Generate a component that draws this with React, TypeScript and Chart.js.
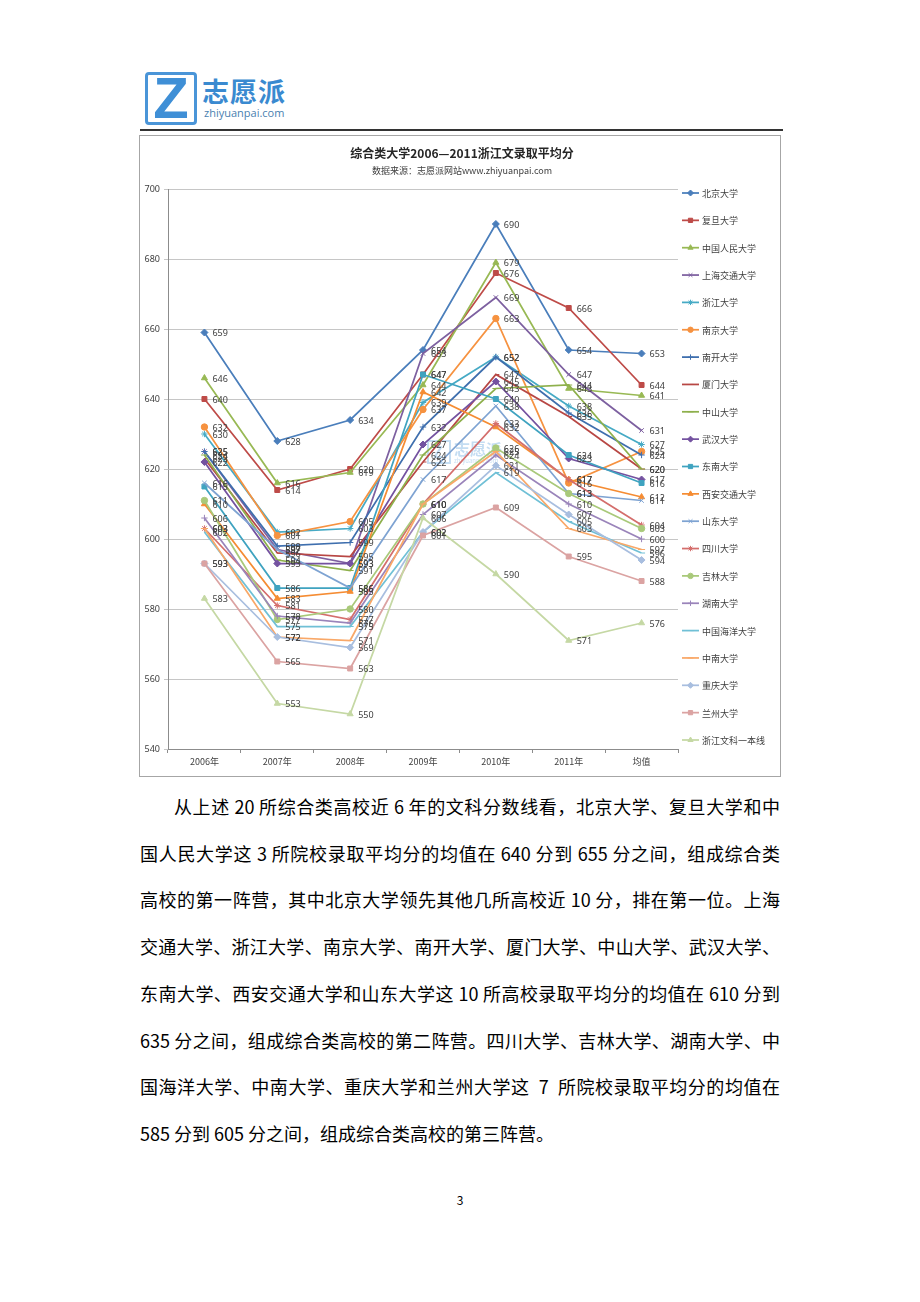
import React, { useEffect, useRef } from 'react';
import { Chart, registerables } from 'chart.js';
import { drawPoint } from 'chart.js/helpers';

Chart.register(...registerables);

const categories = ['2006年', '2007年', '2008年', '2009年', '2010年', '2011年', '均值'];
const yTicks = [540, 560, 580, 600, 620, 640, 660, 680, 700];

const seriesNames = [
  '北京大学', '复旦大学', '中国人民大学', '上海交通大学', '浙江大学', '南京大学', '南开大学',
  '厦门大学', '中山大学', '武汉大学', '东南大学', '西安交通大学', '山东大学', '四川大学',
  '吉林大学', '湖南大学', '中国海洋大学', '中南大学', '重庆大学', '兰州大学', '浙江文科一本线',
];

const beijing = [659, 628, 634, 654, 690, 654, 653];
const fudan = [640, 614, 620, 647, 676, 666, 644];
const renmin = [646, 616, 619, 644, 679, 643, 641];
const shjiaotong = [625, 597, 593, 653, 669, 647, 631];
const zhejiang = [630, 602, 603, 639, 652, 638, 627];
const nanjing = [632, 601, 605, 637, 663, 616, 625];
const nankai = [625, 598, 599, 632, 652, 636, 624];
const xiamen = [623, 596, 595, 622, 647, 635, 620];
const zhongshan = [624, 594, 591, 624, 643, 644, 620];
const wuhan = [622, 593, 593, 627, 645, 623, 617];
const dongnan = [615, 586, 586, 647, 640, 624, 616];
const xajiaotong = [610, 583, 585, 642, 632, 617, 612];
const shandong = [616, 597, 586, 617, 638, 613, 611];
const sichuan = [603, 581, 577, 610, 633, 617, 604];
const jilin = [611, 577, 580, 610, 626, 613, 603];
const hunan = [606, 578, 576, 607, 624, 610, 600];
const haiyang = [602, 575, 575, 602, 619, 605, 596];
const zhongnan = [603, 572, 571, 610, 625, 603, 597];
const chongqing = [593, 572, 569, 602, 621, 607, 594];
const lanzhou = [593, 565, 563, 601, 609, 595, 588];
const yibenxian = [583, 553, 550, 606, 590, 571, 576];

const seriesValues = [
  beijing, fudan, renmin, shjiaotong, zhejiang, nanjing, nankai, xiamen, zhongshan, wuhan,
  dongnan, xajiaotong, shandong, sichuan, jilin, hunan, haiyang, zhongnan, chongqing, lanzhou, yibenxian,
];

const seriesColors = [
  '#4A7EBB', '#BE4B48', '#98B954', '#7D60A0', '#46AAC5', '#F69240', '#3F6FAE',
  '#B84744', '#8EB04C', '#7452A0', '#3FA3C0', '#F58C33', '#7EA3D2', '#D46E6C',
  '#A9C97A', '#9A84BA', '#70C0D6', '#F9A868', '#A8BEDF', '#DBA3A2', '#C5D8A4',
];

const seriesMarkers = [
  'rectRot', 'rect', 'triangle', 'crossRot', 'star', 'circle', 'cross',
  'dash', 'line', 'rectRot', 'rect', 'triangle', 'crossRot', 'star',
  'circle', 'cross', 'dash', 'line', 'rectRot', 'rect', 'triangle',
];

const paragraphLines = [
  '从上述 20 所综合类高校近 6 年的文科分数线看，北京大学、复旦大学和中',
  '国人民大学这 3 所院校录取平均分的均值在 640 分到 655 分之间，组成综合类',
  '高校的第一阵营，其中北京大学领先其他几所高校近 10 分，排在第一位。上海',
  '交通大学、浙江大学、南京大学、南开大学、厦门大学、中山大学、武汉大学、',
  '东南大学、西安交通大学和山东大学这 10 所高校录取平均分的均值在 610 分到',
  '635 分之间，组成综合类高校的第二阵营。四川大学、吉林大学、湖南大学、中',
  '国海洋大学、中南大学、重庆大学和兰州大学这  7  所院校录取平均分的均值在',
  '585 分到 605 分之间，组成综合类高校的第三阵营。',
];

const FONT = '"Noto Sans CJK SC", "Noto Sans", sans-serif';

function markerRadius(style: string) {
  if (style === 'rectRot') return 3.5;
  if (style === 'triangle') return 3.5;
  if (style === 'rect') return 3.5;
  if (style === 'circle') return 3.2;
  if (style === 'dash' || style === 'line') return 3.5;
  return 3.2;
}

const decorPlugin = {
  id: 'decor',
  beforeDatasetsDraw(chart: any) {
    const ctx = chart.ctx;
    ctx.save();
    ctx.globalAlpha = 0.3;
    ctx.strokeStyle = '#3A8FD4';
    ctx.lineWidth = 2;
    ctx.strokeRect(288, 305, 22, 22);
    ctx.fillStyle = '#3A8FD4';
    ctx.font = 'bold 16px ' + FONT;
    ctx.textBaseline = 'middle';
    ctx.fillText('Z', 293, 316);
    ctx.font = 'bold 16px ' + FONT;
    ctx.fillText('志愿派', 314, 313);
    ctx.font = '6px ' + FONT;
    ctx.fillText('zhiyuanpai.com', 314, 325);
    ctx.restore();
  },
  afterDatasetsDraw(chart: any) {
    const ctx = chart.ctx;
    ctx.save();
    ctx.font = '9px "Noto Sans", sans-serif';
    ctx.fillStyle = '#404040';
    ctx.textBaseline = 'middle';
    ctx.textAlign = 'left';
    chart.data.datasets.forEach((ds: any, i: number) => {
      const meta = chart.getDatasetMeta(i);
      meta.data.forEach((pt: any, j: number) => {
        ctx.fillText(String(ds.data[j]), pt.x + 8, pt.y + 1);
      });
    });
    ctx.restore();
  },
  afterDraw(chart: any) {
    const ctx = chart.ctx;
    const area = chart.chartArea;
    ctx.save();
    ctx.textAlign = 'center';
    ctx.textBaseline = 'middle';
    ctx.fillStyle = '#262626';
    ctx.font = 'bold 12px ' + FONT;
    ctx.fillText('综合类大学2006—2011浙江文录取平均分', 322, 17);
    ctx.fillStyle = '#404040';
    ctx.font = '9px ' + FONT;
    ctx.fillText('数据来源：志愿派网站www.zhiyuanpai.com', 322, 35);
    const x0 = area.right + 4;
    const y0 = area.top + 4;
    const step = 27.35;
    ctx.textAlign = 'left';
    ctx.font = '9px ' + FONT;
    chart.data.datasets.forEach((ds: any, i: number) => {
      const y = y0 + i * step;
      ctx.strokeStyle = ds.borderColor;
      ctx.lineWidth = 1.75;
      ctx.beginPath();
      ctx.moveTo(x0, y);
      ctx.lineTo(x0 + 17, y);
      ctx.stroke();
      ctx.fillStyle = ds.pointBackgroundColor;
      ctx.strokeStyle = ds.pointBorderColor;
      ctx.lineWidth = 1;
      drawPoint(ctx, { pointStyle: ds.pointStyle, radius: ds.pointRadius - 0.5, borderWidth: 1, rotation: 0 }, x0 + 8.5, y);
      ctx.fillStyle = '#404040';
      ctx.fillText(ds.label, x0 + 20, y + 0.5);
    });
    ctx.restore();
  },
};

function ChartBox() {
  const ref = useRef<HTMLCanvasElement | null>(null);
  useEffect(() => {
    if (!ref.current) return;
    const n = seriesValues.length;
    const datasets = seriesValues.map((vals, i) => ({
      label: seriesNames[i],
      data: vals,
      borderColor: seriesColors[i],
      backgroundColor: seriesColors[i],
      pointBackgroundColor: seriesColors[i],
      pointBorderColor: seriesColors[i],
      pointStyle: seriesMarkers[i],
      pointRadius: markerRadius(seriesMarkers[i]),
      pointBorderWidth: 1,
      borderWidth: 1.75,
      tension: 0,
      fill: false,
      order: n - i,
    }));
    const chart = new Chart(ref.current, {
      type: 'line',
      data: { labels: categories, datasets },
      plugins: [decorPlugin],
      options: {
        animation: false,
        responsive: false,
        devicePixelRatio: 1,
        layout: { padding: { left: 0, right: 102, top: 53, bottom: 2 } },
        plugins: {
          legend: { display: false },
          title: { display: false },
          tooltip: { enabled: false },
        },
        scales: {
          x: {
            type: 'category',
            offset: true,
            grid: {
              display: true,
              drawOnChartArea: false,
              offset: true,
              tickLength: 4,
              color: '#8C8C8C',
            },
            border: { display: true, color: '#8C8C8C', width: 1 },
            ticks: {
              font: { size: 9, family: FONT },
              color: '#404040',
              padding: 3,
              maxRotation: 0,
            },
            afterFit: (s: any) => { s.height = 25; },
          },
          y: {
            min: 540,
            max: 700,
            afterBuildTicks: (s: any) => { s.ticks = yTicks.map((v) => ({ value: v })); },
            grid: { color: '#C6C6C6', tickLength: 4, lineWidth: 1 },
            border: { display: true, color: '#8C8C8C', width: 1 },
            ticks: {
              font: { size: 9, family: '"Noto Sans", sans-serif' },
              color: '#404040',
              padding: 4,
            },
            afterFit: (s: any) => { s.width = 28; },
          },
        },
      } as any,
    });
    return () => chart.destroy();
  }, []);
  return (
    <div
      style={{
        position: 'absolute',
        left: 139,
        top: 135,
        width: 640,
        height: 640,
        border: '1px solid #A6A6A6',
        background: '#fff',
      }}
    >
      <canvas ref={ref} width={640} height={640} style={{ width: 640, height: 640, display: 'block' }} />
    </div>
  );
}

export default function App() {
  return (
    <div style={{ position: 'absolute', left: 0, top: 0, width: 920, height: 1302, background: '#fff', fontFamily: FONT }}>
      <div
        style={{
          position: 'absolute',
          left: 145,
          top: 72,
          width: 46,
          height: 47,
          border: '3px solid #4A95D8',
          borderRadius: 4,
          background: '#fff',
          overflow: 'hidden',
        }}
      >
        <div
          style={{
            position: 'absolute',
            left: 0,
            top: -8,
            width: 46,
            textAlign: 'center',
            fontSize: 58,
            fontWeight: 'bold',
            lineHeight: '62px',
            color: '#3F8FD6',
            fontFamily: '"Liberation Sans", sans-serif',
          }}
        >
          Z
        </div>
      </div>
      <div
        style={{
          position: 'absolute',
          left: 202,
          top: 76,
          fontSize: 27,
          fontWeight: 'bold',
          lineHeight: '30px',
          color: '#3A8AD0',
          letterSpacing: 1,
        }}
      >
        志愿派
      </div>
      <div
        style={{
          position: 'absolute',
          left: 204,
          top: 106,
          fontSize: 11,
          lineHeight: '13px',
          color: '#4A7FB0',
          fontFamily: '"Open Sans", sans-serif',
        }}
      >
        zhiyuanpai.com
      </div>
      <div style={{ position: 'absolute', left: 140, top: 129, width: 643, height: 2, background: '#333' }} />

      <ChartBox />

      {paragraphLines.map((line, i) => {
        const last = i === paragraphLines.length - 1;
        return (
          <div
            key={i}
            style={{
              position: 'absolute',
              left: 140,
              top: 806 - 13 + i * 46.7,
              width: 640,
              height: 26,
              lineHeight: '26px',
              fontSize: 18,
              color: '#000',
              whiteSpace: 'pre',
              textAlign: last ? 'left' : 'justify',
              textAlignLast: last ? 'left' : 'justify',
              paddingLeft: i === 0 ? 34 : 0,
              boxSizing: 'border-box',
            } as any}
          >
            {line}
          </div>
        );
      })}
      <div
        style={{
          position: 'absolute',
          left: 440,
          top: 1192,
          width: 40,
          textAlign: 'center',
          fontSize: 12,
          lineHeight: '16px',
          color: '#000',
        }}
      >
        3
      </div>
    </div>
  );
}
